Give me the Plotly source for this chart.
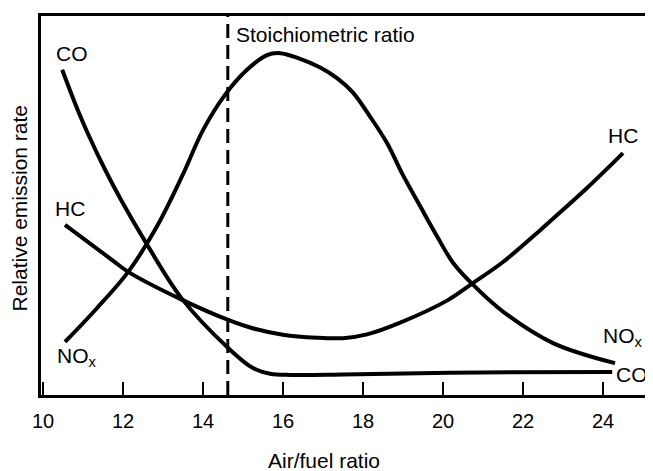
import plotly.graph_objects as go

# Air/fuel ratio values and relative emission rates (arbitrary 0-100 scale)
co_x = [10.48, 10.8, 11.13, 11.55, 11.98, 12.55, 13.48, 14.63, 15.25, 15.68, 16.2, 17.5, 20.18, 24.23]
co_y = [85.8, 77.0, 68.8, 59.5, 50.9, 40.6, 25.3, 12.4, 7.1, 5.6, 5.3, 5.4, 5.9, 6.1]

nox_x = [10.55, 11.33, 12.13, 12.85, 13.48, 14.0, 14.55, 15.1, 15.6, 15.93, 16.38, 16.93, 17.35,
         17.75, 18.18, 18.6, 19.0, 19.43, 19.85, 20.25, 20.73, 21.5, 22.75, 24.3]
nox_y = [14.0, 22.7, 32.5, 44.5, 57.8, 69.9, 79.2, 85.8, 89.7, 90.2, 88.9, 86.4, 83.6,
         79.8, 73.4, 66.5, 58.0, 49.8, 41.9, 34.9, 29.3, 22.0, 13.7, 8.4]

hc_x = [10.55, 11.73, 12.13, 13.48, 14.63, 15.18, 16.0, 16.85, 17.5, 18.1, 18.93, 20.1,
        20.73, 21.5, 22.43, 22.75, 23.6, 24.5]
hc_y = [44.9, 35.6, 32.5, 25.1, 19.8, 17.8, 15.9, 15.1, 15.0, 16.0, 19.1, 24.9,
        29.4, 35.1, 43.5, 46.5, 54.6, 63.8]

stoich_ratio = 14.62
x_ticks = [10, 12, 14, 16, 18, 20, 22, 24]

# Curve labels: (text, x, y, anchor)
labels = [
    ("CO", 10.73, 90.2, "center"),
    ("HC", 10.68, 49.3, "center"),
    ("NO<sub>x</sub>", 10.85, 10.0, "center"),
    ("HC", 24.5, 68.6, "center"),
    ("NO<sub>x</sub>", 24.5, 15.3, "center"),
    ("CO", 24.73, 5.3, "center"),
    ("Stoichiometric ratio", 14.78, 95.0, "left"),
]

FONT = "Liberation Sans, Arial, Helvetica, sans-serif"
line_style = dict(color="black", width=4, shape="spline", smoothing=1.0)

fig = go.Figure()
for name, xs, ys in [("CO", co_x, co_y), ("NOx", nox_x, nox_y), ("HC", hc_x, hc_y)]:
    fig.add_trace(go.Scatter(x=xs, y=ys, mode="lines", name=name, line=line_style,
                             showlegend=False, hoverinfo="skip"))

fig.add_shape(type="line", xref="x", yref="paper", x0=stoich_ratio, x1=stoich_ratio,
              y0=0, y1=1, line=dict(color="black", width=3, dash="14px,7px"))

for text, x, y, anchor in labels:
    fig.add_annotation(x=x, y=y, xref="x", yref="y", text=text, showarrow=False,
                       xanchor=anchor, yanchor="middle",
                       font=dict(family=FONT, size=21, color="black"))

fig.add_annotation(x=0.463, y=0, xref="paper", yref="paper", yshift=-65,
                   text="Air/fuel ratio", showarrow=False, xanchor="center", yanchor="middle",
                   font=dict(family=FONT, size=21, color="black"))
fig.add_annotation(x=0, y=0.492, xref="paper", yref="paper", xshift=-21,
                   text="Relative emission rate", showarrow=False, textangle=-90,
                   xanchor="center", yanchor="middle",
                   font=dict(family=FONT, size=21, color="black"))

fig.update_xaxes(range=[9.95, 25.225], tickvals=x_ticks, ticks="inside", ticklen=13,
                 tickwidth=2, tickcolor="black", showline=True, linewidth=3, linecolor="black",
                 mirror=True, showgrid=False, zeroline=False, automargin=False,
                 ticklabelstandoff=6,
                 tickfont=dict(family=FONT, size=20, color="black"))
fig.update_yaxes(range=[0, 100], showticklabels=False, ticks="", showline=True, linewidth=3,
                 linecolor="black", mirror=True, showgrid=False, zeroline=False,
                 automargin=False)

# The page body keeps an 8px default margin, so the figure is sized to fit inside it.
fig.update_layout(width=645, height=463, margin=dict(l=33, r=1, t=8, b=76),
                  plot_bgcolor="white", paper_bgcolor="white",
                  font=dict(family=FONT, color="black"))

fig.write_html("out.html")
